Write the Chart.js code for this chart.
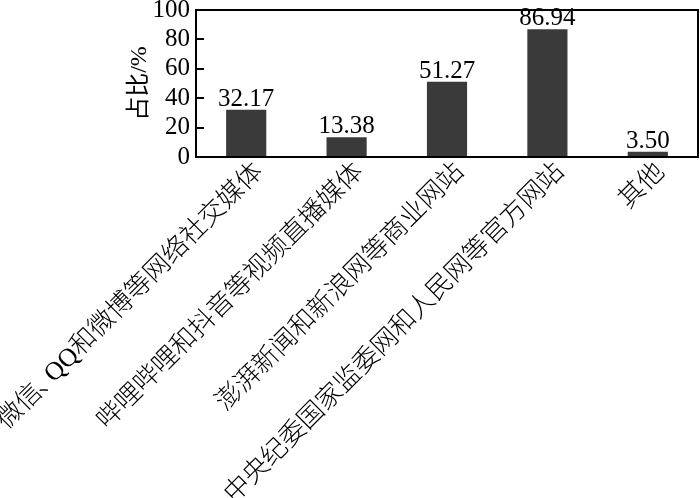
<!DOCTYPE html>
<html><head><meta charset="utf-8">
<script src="https://cdn.jsdelivr.net/npm/chart.js@4"></script>
<style>html,body{margin:0;padding:0;background:#fff}#w{width:700px;height:498px}</style>
</head><body><div id="w"><canvas id="c"></canvas></div>
<script>
const categories = ["微信、QQ和微博等网络社交媒体","哔哩哔哩和抖音等视频直播媒体","澎湃新闻和新浪网等商业网站","中央纪委国家监委网和人民网等官方网站","其他"];
const values = [32.17, 13.38, 51.27, 86.94, 3.50];
const yTicks = [0, 20, 40, 60, 80, 100];
const yTitle = '占比/%';
const FONT = '"Liberation Serif", "Noto Sans CJK SC", serif';

function drawRunRight(ctx, text, size) {
  // right-aligned at origin; narrow advance for the enumeration comma
  const chars = Array.from(text);
  const adv = chars.map(ch => ch === '、' ? size * 0.55 : ctx.measureText(ch).width);
  let xpos = -adv.reduce((s, v) => s + v, 0);
  ctx.textAlign = 'left';
  chars.forEach((ch, i) => {
    ctx.fillText(ch, ch === '、' ? xpos - size * 0.1 : xpos, 0);
    xpos += adv[i];
  });
}

const framePlugin = {
  id: 'frame',
  afterDraw(chart) {
    const {ctx, chartArea: a, scales: {x, y}} = chart;
    ctx.save();
    ctx.strokeStyle = '#000';
    ctx.lineWidth = 2;
    ctx.strokeRect(a.left, a.top, a.right - a.left, a.bottom - a.top);
    yTicks.forEach(v => {
      const py = Math.round(y.getPixelForValue(v));
      ctx.beginPath(); ctx.moveTo(a.left, py); ctx.lineTo(a.left + 8, py); ctx.stroke();
    });
    ctx.fillStyle = '#000';
    ctx.font = '24px ' + FONT;
    ctx.textAlign = 'center';
    ctx.textBaseline = 'middle';
    ctx.save();
    ctx.translate(a.left - 56, (a.top + a.bottom) / 2);
    ctx.rotate(-Math.PI / 2);
    ctx.fillText(yTitle, 0, 0);
    ctx.restore();
    const size = 26;
    ctx.font = '300 ' + size + 'px ' + FONT;
    ctx.textBaseline = 'middle';
    categories.forEach((c, i) => {
      const px = x.getPixelForValue(i);
      ctx.save();
      ctx.translate(px + 13, a.bottom + 11);
      ctx.rotate(-Math.PI / 4);
      drawRunRight(ctx, c, size);
      ctx.restore();
    });
    ctx.restore();
  }
};
const labelPlugin = {
  id: 'vals',
  afterDatasetsDraw(chart) {
    const {ctx} = chart;
    const meta = chart.getDatasetMeta(0);
    ctx.save();
    ctx.font = '25px ' + FONT;
    ctx.fillStyle = '#000';
    ctx.textAlign = 'center';
    ctx.textBaseline = 'bottom';
    meta.data.forEach((bar, i) => {
      ctx.fillText(values[i].toFixed(2), bar.x, bar.y + 2);
    });
    ctx.restore();
  }
};

new Chart(document.getElementById('c'), {
  type: 'bar',
  data: { labels: categories, datasets: [{ data: values, backgroundColor: '#3a3a3a', barPercentage: 0.4, categoryPercentage: 1.0 }] },
  options: {
    responsive: true, maintainAspectRatio: false, animation: false,
    layout: { padding: { top: 10, right: 2, left: 0, bottom: 341 } },
    plugins: { legend: { display: false }, tooltip: { enabled: false } },
    scales: {
      x: {
        grid: { display: false, drawTicks: false },
        border: { display: false },
        ticks: { display: false },
        afterFit(s) { s.height = 0; s.paddingLeft = 0; s.paddingRight = 0; }
      },
      y: {
        min: 0, max: 100,
        afterBuildTicks(s) { s.ticks = yTicks.map(v => ({ value: v })); },
        afterFit(s) { s.width = 196; s.paddingTop = 0; s.paddingBottom = 0; },
        grid: { display: false, drawTicks: false },
        border: { display: false },
        ticks: { color: '#000', font: { family: FONT, size: 25 }, padding: 6, autoSkip: false }
      }
    }
  },
  plugins: [framePlugin, labelPlugin]
});
</script></body></html>
